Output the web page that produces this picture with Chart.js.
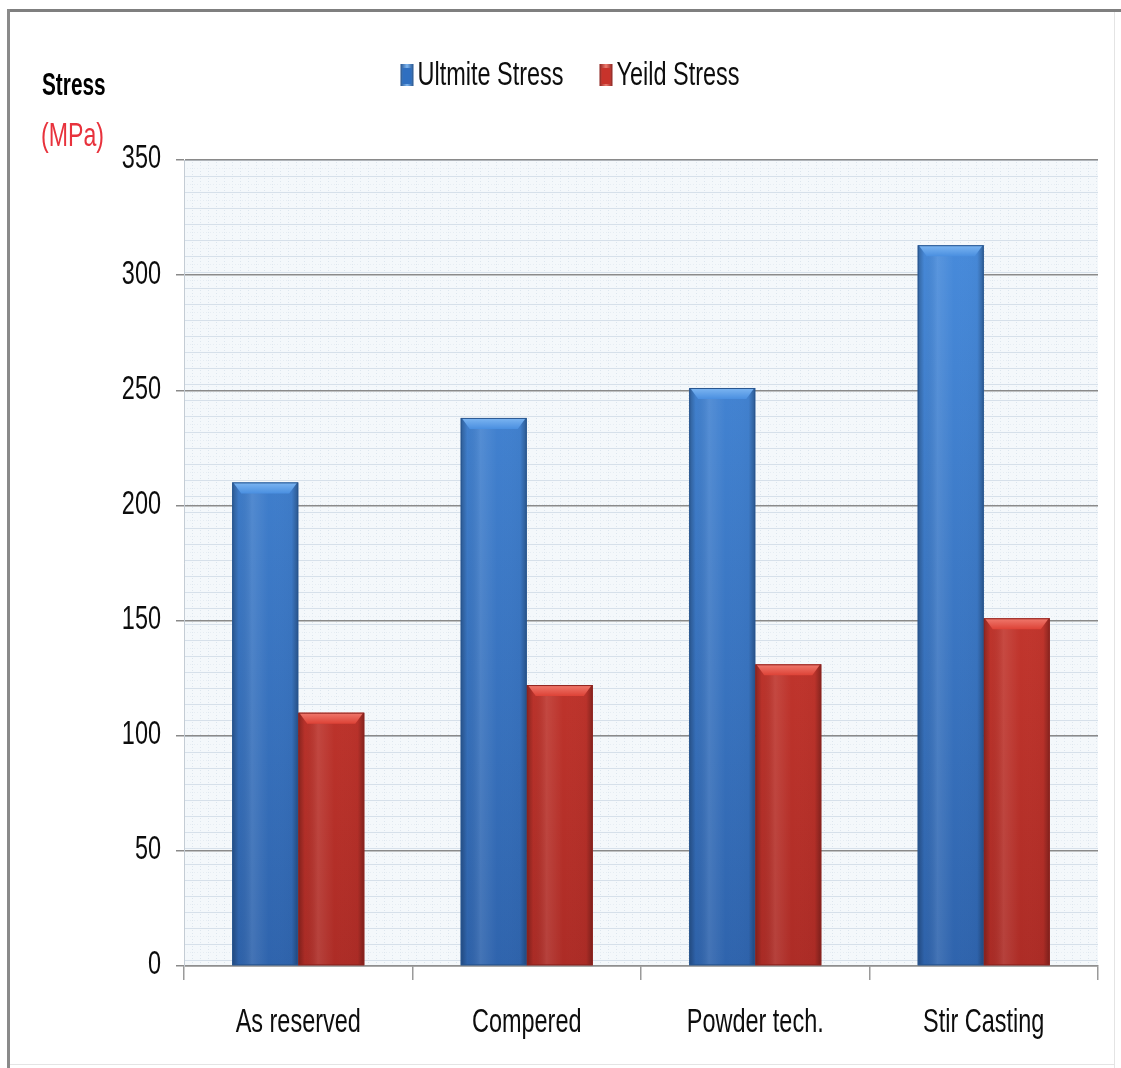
<!DOCTYPE html>
<html>
<head>
<meta charset="utf-8">
<title>Stress comparison</title>
<script src="https://cdn.jsdelivr.net/npm/chart.js@4.4.1/dist/chart.umd.min.js"></script>
<style>
  html, body { margin: 0; padding: 0; background: #ffffff; }
  #wrap { position: relative; width: 1121px; height: 1068px; }
</style>
</head>
<body>
<div id="wrap"><canvas id="chart" width="1121" height="1068"></canvas></div>
<script>
// Processing routes and measured stresses (MPa)
const categories = ['As reserved', 'Compered', 'Powder tech.', 'Stir Casting'];
const ultimateStress = [210, 238, 251, 313];
const yieldStress = [110, 122, 131, 151];
const seriesNames = ['Ultmite Stress', 'Yeild Stress'];
const axisTitle = 'Stress';
const axisUnit = '(MPa)';
const yMin = 0, yMax = 350, yStep = 50;

const FONT = "'Liberation Sans', Arial, sans-serif";
const SQUEEZE = 0.69;   // tall, narrow lettering
const INK = '#0d0d0d';

// Look of each series: body gradient, bevel highlight, outline
const seriesStyle = [
  { top: '#4a8fe0', bottom: '#2f64ad', bevel: '#7db6f2', edge: '#27558f', key: '#2f6fc0' },
  { top: '#dd4236', bottom: '#ad2c26', bevel: '#f07a6e', edge: '#8e231f', key: '#c8332b' }
];

function bodyGradient(ctx, idx) {
  const chart = ctx.chart;
  const area = chart.chartArea;
  if (!area) return seriesStyle[idx].top;
  const g = chart.ctx.createLinearGradient(0, area.top, 0, area.bottom);
  g.addColorStop(0, seriesStyle[idx].top);
  g.addColorStop(1, seriesStyle[idx].bottom);
  return g;
}

// Text squeezed horizontally; align is 'left' | 'center' | 'right'
function narrowText(ctx, text, x, y, align, font, color, sx) {
  ctx.save();
  ctx.font = font;
  ctx.fillStyle = color;
  ctx.textBaseline = 'middle';
  ctx.textAlign = 'left';
  const w = ctx.measureText(text).width * sx;
  let left = x;
  if (align === 'center') left = x - w / 2;
  else if (align === 'right') left = x - w;
  ctx.translate(left, y);
  ctx.scale(sx, 1);
  ctx.fillText(text, 0, 0);
  ctx.restore();
  return w;
}

// Light blue-grey grid paper behind the plot
function makePaper() {
  const c = document.createElement('canvas');
  c.width = 16; c.height = 16;
  const p = c.getContext('2d');
  p.fillStyle = '#f4f8fb';
  p.fillRect(0, 0, 16, 16);
  p.fillStyle = '#d6e0ea';
  p.fillRect(0, 0, 16, 1);
  p.fillStyle = '#dde6ee';
  for (let y = 2; y < 16; y += 3) {
    p.fillRect(0, y, 1, 1);
    p.fillRect(8, y, 1, 1);
  }
  p.fillStyle = '#e6edf3';
  for (let x = 2; x < 16; x += 3) p.fillRect(x, 8, 1, 1);
  return c;
}

const framePlugin = {
  id: 'frame',
  beforeDraw(chart) {
    const { ctx, width, height, chartArea } = chart;
    ctx.save();
    ctx.fillStyle = '#ffffff';
    ctx.fillRect(0, 0, width, height);
    // outer frame
    ctx.fillStyle = '#7f7f7f';
    ctx.fillRect(7, 9, width - 7, 3);
    ctx.fillStyle = '#8a8a8a';
    ctx.fillRect(7, 9, 3, height - 9);
    ctx.fillStyle = '#e4e4e4';
    ctx.fillRect(1114, 12, 1, height - 12);
    ctx.fillRect(10, 1064, 1104, 1);
    // plot paper
    const pat = ctx.createPattern(makePaper(), 'repeat');
    ctx.fillStyle = pat;
    ctx.fillRect(chartArea.left, chartArea.top, chartArea.right - chartArea.left, chartArea.bottom - chartArea.top);
    ctx.restore();
  },
  afterDraw(chart) {
    const ctx = chart.ctx;
    const xs = chart.scales.x, ys = chart.scales.y;

    // value labels on the left axis
    ys.ticks.forEach(t => {
      narrowText(ctx, String(t.value), 161, ys.getPixelForValue(t.value) - 1, 'right',
        '34px ' + FONT, INK, SQUEEZE);
    });
    // category labels under the bars
    chart.data.labels.forEach((lab, i) => {
      narrowText(ctx, lab, xs.getPixelForValue(i), 1023, 'center',
        '34px ' + FONT, INK, SQUEEZE);
    });

    // axis title, stacked at the top left
    narrowText(ctx, axisTitle, 42, 86, 'left', 'bold 32px ' + FONT, '#000000', 0.65);
    narrowText(ctx, axisUnit, 41, 137, 'left', '34px ' + FONT, '#e8323c', 0.68);

    // legend
    ctx.save();
    ctx.font = '34px ' + FONT;
    const boxW = 13, boxH = 22, gapText = 4, gapItem = 36;
    const items = chart.data.datasets.map((ds, i) => ({
      text: ds.label, w: ctx.measureText(ds.label).width * SQUEEZE, style: seriesStyle[i]
    }));
    let total = 0;
    items.forEach((it, i) => { total += boxW + gapText + it.w + (i ? gapItem : 0); });
    let x = 570 - total / 2;
    const cy = 75;
    items.forEach((it, i) => {
      if (i) x += gapItem;
      const g = ctx.createLinearGradient(x, 0, x + boxW, 0);
      g.addColorStop(0, it.style.edge);
      g.addColorStop(0.5, it.style.bevel);
      g.addColorStop(1, it.style.edge);
      ctx.fillStyle = g;
      ctx.fillRect(x, cy - boxH / 2, boxW, boxH);
      ctx.fillStyle = it.style.key;
      ctx.fillRect(x + 2, cy - boxH / 2 + 4, boxW - 4, boxH - 6);
      x += boxW + gapText;
      narrowText(ctx, it.text, x, cy + 1, 'left', '34px ' + FONT, INK, SQUEEZE);
      x += it.w;
    });
    ctx.restore();
  }
};

// Bevel shading on each bar, placed from the bar elements laid out by the scales
const bevelPlugin = {
  id: 'bevel',
  afterDatasetsDraw(chart) {
    const ctx = chart.ctx;
    ctx.save();
    chart.data.datasets.forEach((ds, i) => {
      const meta = chart.getDatasetMeta(i);
      const st = seriesStyle[i];
      meta.data.forEach(bar => {
        const { x, y, base, width } = bar.getProps(['x', 'y', 'base', 'width'], true);
        const l = x - width / 2, r = x + width / 2, h = base - y;
        const side = ctx.createLinearGradient(l, 0, r, 0);
        side.addColorStop(0, 'rgba(0,0,0,0.28)');
        side.addColorStop(0.1, 'rgba(0,0,0,0.02)');
        side.addColorStop(0.3, 'rgba(255,255,255,0.10)');
        side.addColorStop(0.55, 'rgba(255,255,255,0)');
        side.addColorStop(0.9, 'rgba(0,0,0,0.02)');
        side.addColorStop(1, 'rgba(0,0,0,0.30)');
        ctx.fillStyle = side;
        ctx.fillRect(l, y, width, h);
        const b = 11;
        const tg = ctx.createLinearGradient(0, y, 0, y + b);
        tg.addColorStop(0, st.bevel);
        tg.addColorStop(1, st.top);
        ctx.beginPath();
        ctx.moveTo(l + 1, y);
        ctx.lineTo(r - 1, y);
        ctx.lineTo(r - 9, y + b);
        ctx.lineTo(l + 9, y + b);
        ctx.closePath();
        ctx.fillStyle = tg;
        ctx.fill();
        ctx.strokeStyle = st.edge;
        ctx.lineWidth = 1;
        ctx.strokeRect(l + 0.5, y + 0.5, width - 1, h - 1);
      });
    });
    ctx.restore();
  }
};

new Chart(document.getElementById('chart'), {
  type: 'bar',
  data: {
    labels: categories,
    datasets: [
      {
        label: seriesNames[0],
        data: ultimateStress,
        backgroundColor: c => bodyGradient(c, 0),
        borderWidth: 0,
        categoryPercentage: 0.578,
        barPercentage: 1.0
      },
      {
        label: seriesNames[1],
        data: yieldStress,
        backgroundColor: c => bodyGradient(c, 1),
        borderWidth: 0,
        categoryPercentage: 0.578,
        barPercentage: 1.0
      }
    ]
  },
  options: {
    responsive: false,
    animation: false,
    devicePixelRatio: 1,
    layout: { padding: { top: 160, right: 23, bottom: 0, left: 0 } },
    plugins: {
      legend: { display: false },
      tooltip: { enabled: false }
    },
    scales: {
      x: {
        offset: true,
        grid: {
          offset: true,
          drawOnChartArea: false,
          drawTicks: true,
          tickLength: 14,
          color: '#9a9a9a',
          lineWidth: 1.5
        },
        border: { display: true, color: '#8f8f8f', width: 1.5 },
        ticks: { display: false },
        afterFit(scale) { scale.height = 102; }
      },
      y: {
        min: yMin,
        max: yMax,
        ticks: { display: false, stepSize: yStep },
        grid: {
          color: '#8a8a8a',
          lineWidth: 1.5,
          tickLength: 8,
          drawTicks: true
        },
        border: { display: true, color: '#c4ccd4', width: 1 },
        afterFit(scale) { scale.width = 184; }
      }
    }
  },
  plugins: [framePlugin, bevelPlugin]
});
</script>
</body>
</html>
